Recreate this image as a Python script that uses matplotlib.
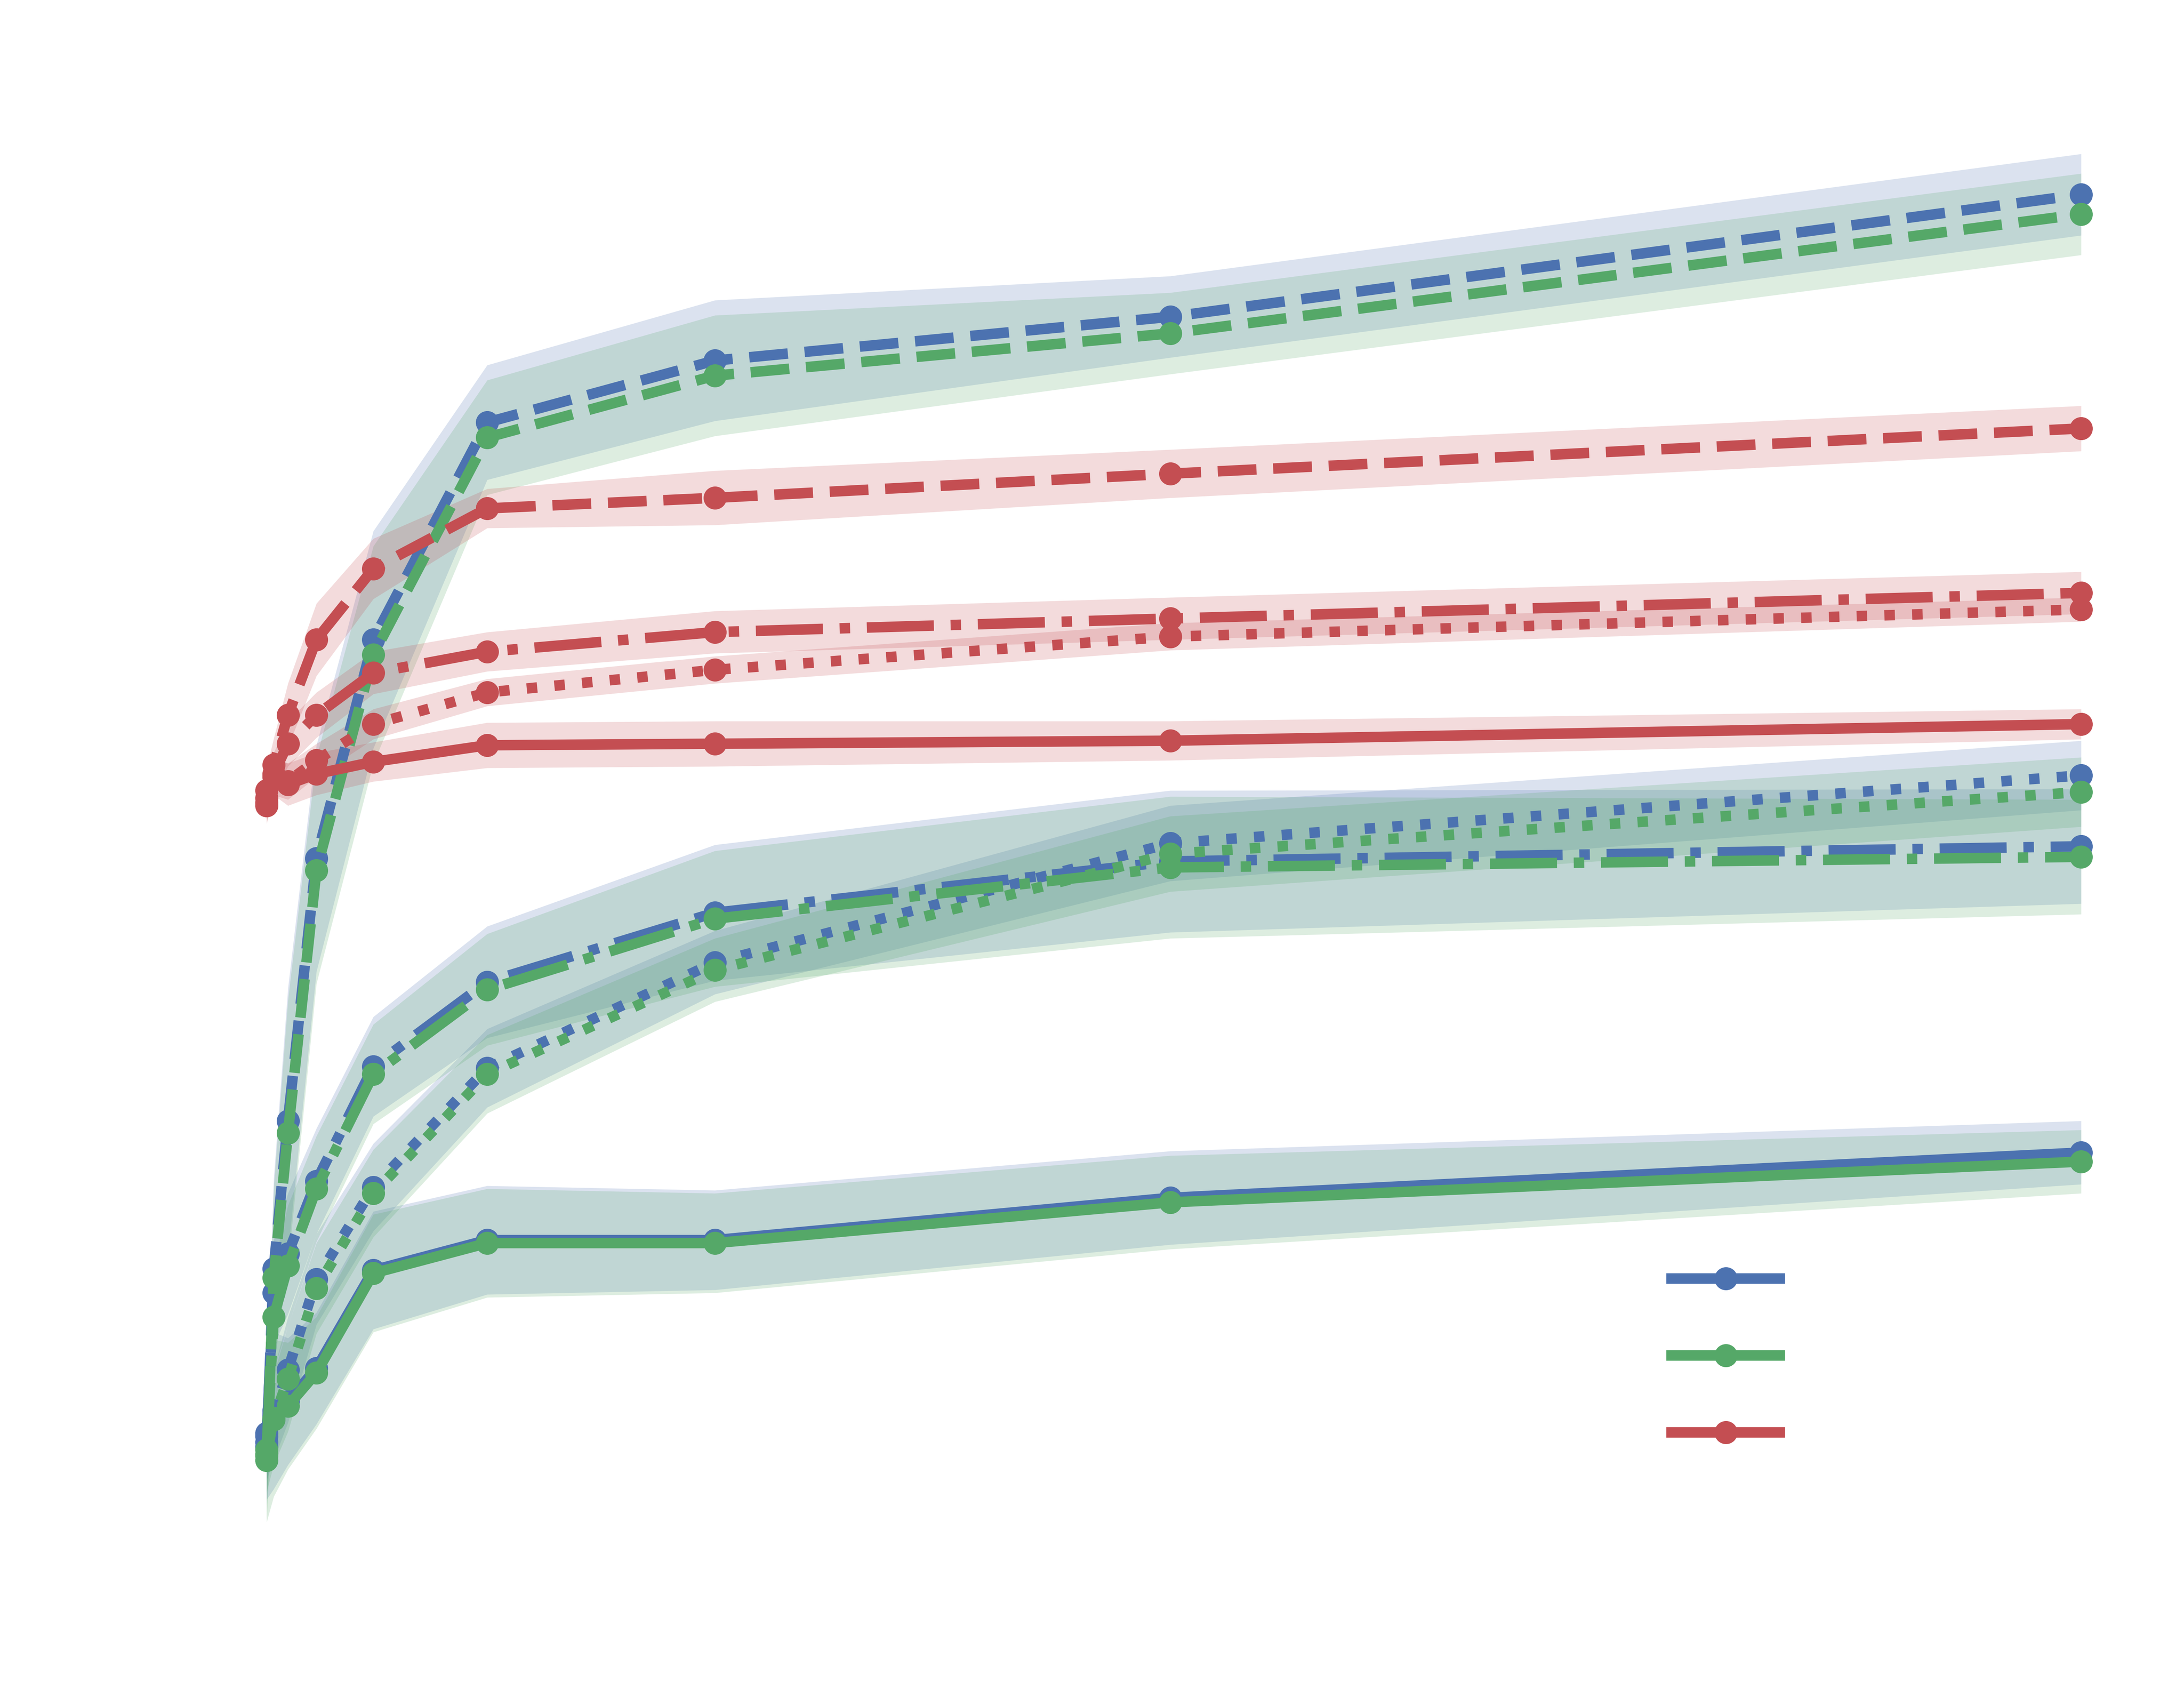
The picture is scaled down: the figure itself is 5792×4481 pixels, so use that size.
import matplotlib
matplotlib.use("Agg")
import matplotlib.pyplot as plt
from matplotlib.lines import Line2D
import numpy as np

# ---------------------------------------------------------------------------
# data: x positions and per-series mean / half-width of the shaded band
# ---------------------------------------------------------------------------
X = [1, 2, 4, 8, 16, 32, 64, 128, 256]

BLUE_SOLID = [7.5, 9.0, 9.6, 11.8, 18.3, 20.3, 20.3, 23.1, 26.1]
BLUE_DASHED = [6.6, 18.4, 28.2, 45.6, 60.1, 74.5, 78.6, 81.5, 89.6]
BLUE_DASHDOT = [7.3, 16.8, 19.4, 24.2, 31.8, 37.4, 42.0, 45.4, 46.4]
BLUE_DOTTED = [6.9, 8.7, 11.7, 17.7, 23.8, 31.7, 38.7, 46.6, 51.1]

GREEN_SOLID = [6.0, 8.5, 9.3, 11.5, 18.1, 20.1, 20.1, 22.8, 25.5]
GREEN_DASHED = [5.7, 17.8, 27.4, 44.8, 59.1, 73.5, 77.6, 80.4, 88.3]
GREEN_DASHDOT = [6.4, 15.2, 18.6, 23.7, 31.3, 36.9, 41.6, 45.0, 45.7]
GREEN_DOTTED = [6.1, 8.4, 11.1, 17.1, 23.4, 31.3, 38.2, 45.9, 50.0]

RED_SOLID = [49.3, 51.1, 50.5, 51.2, 52.0, 53.1, 53.2, 53.4, 54.5]
RED_DASHED = [50.1, 51.8, 55.1, 60.1, 64.8, 68.8, 69.5, 71.1, 74.1]
RED_DASHDOT = [49.6, 51.2, 53.2, 55.1, 57.9, 59.3, 60.6, 61.5, 63.2]
RED_DOTTED = [49.1, 51.0, 50.7, 52.1, 54.5, 56.6, 58.1, 60.3, 62.1]

# band half-widths
ERR_SOLID = [4.4, 5.2, 4.2, 3.7, 3.9, 3.6, 3.3, 3.1, 2.1]
ERR_DASHED = [4.0, 6.0, 8.8, 7.5, 7.2, 3.8, 4.0, 2.7, 2.7]
ERR_DASHDOT = [3.0, 3.5, 4.0, 3.5, 3.3, 3.7, 4.5, 4.7, 3.8]
ERR_DOTTED = [2.5, 3.0, 3.5, 3.0, 2.9, 2.6, 2.1, 2.5, 2.3]

RED_ERR_SOLID = [1.3, 1.3, 1.4, 1.4, 1.3, 1.5, 1.5, 1.3, 1.0]
RED_ERR_DASHED = [1.5, 1.75, 2.1, 2.4, 2.0, 1.3, 1.8, 1.6, 1.5]
RED_ERR_DASHDOT = [1.4, 1.4, 1.5, 1.5, 1.4, 1.3, 1.4, 1.4, 1.4]
RED_ERR_DOTTED = [1.2, 1.2, 1.2, 1.1, 1.0, 0.9, 0.9, 0.9, 0.8]

LEGEND_LABELS = ["Model A", "Model B", "Model C"]

BLUE, GREEN, RED = "#4C72B0", "#55A868", "#C44E52"

# ---------------------------------------------------------------------------
W, H, DPI = 5792, 4481, 400
fig = plt.figure(figsize=(W / DPI, H / DPI), dpi=DPI)
fig.patch.set_facecolor("white")
ax = fig.add_axes([0, 0, 1, 1])

# pixel mapping of the reference (x=1 at px 707, x=256 at px 5519)
px_per_x = (5519 - 707) / 255
ax.set_xlim(1 - 707 / px_per_x, 1 + (W - 707) / px_per_x)
ax.set_ylim((4100 - H) / 40, 4100 / 40)
ax.axis("off")

LW = 5.0
MS = 10

groups = [
    (BLUE, [(BLUE_SOLID, ERR_SOLID, "-"), (BLUE_DASHED, ERR_DASHED, "--"),
            (BLUE_DASHDOT, ERR_DASHDOT, "-."), (BLUE_DOTTED, ERR_DOTTED, ":")]),
    (GREEN, [(GREEN_SOLID, ERR_SOLID, "-"), (GREEN_DASHED, ERR_DASHED, "--"),
             (GREEN_DASHDOT, ERR_DASHDOT, "-."), (GREEN_DOTTED, ERR_DOTTED, ":")]),
    (RED, [(RED_SOLID, RED_ERR_SOLID, "-"), (RED_DASHED, RED_ERR_DASHED, "--"),
           (RED_DASHDOT, RED_ERR_DASHDOT, "-."), (RED_DOTTED, RED_ERR_DOTTED, ":")]),
]

x = np.array(X)
for color, series in groups:
    for mean, err, ls in series:
        mean = np.array(mean)
        err = np.array(err)
        ax.plot(x, mean, color=color, ls=ls, lw=LW, marker="o", ms=MS,
                dash_capstyle="butt", zorder=3)
        ax.fill_between(x, mean - err, mean + err, color=color, alpha=0.2,
                        lw=0, zorder=2)

handles = [Line2D([], [], color=c, lw=LW, marker="o", ms=MS, ls="-")
           for c in (BLUE, GREEN, RED)]
leg = fig.legend(handles, LEGEND_LABELS, loc="upper left",
                 bbox_to_anchor=(0.7464, 0.279), frameon=False,
                 fontsize=22, handlelength=2.35, labelspacing=0.71,
                 labelcolor="white")

fig.savefig("out.png", dpi=DPI, facecolor="white")
